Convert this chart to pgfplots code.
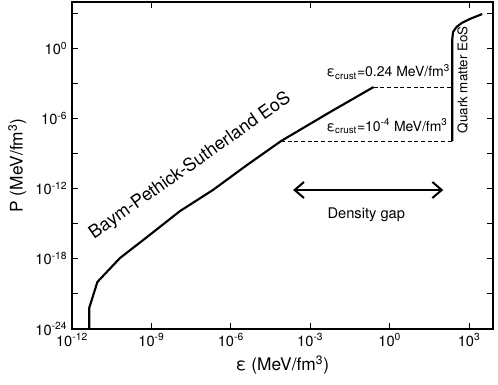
\documentclass[border=0pt]{standalone}
\usepackage{fontspec}
\setmainfont{TeX Gyre Heros}
\usepackage{pgfplots}
\pgfplotsset{compat=1.18}
\usetikzlibrary{arrows.meta}

\begin{document}
\begin{tikzpicture}
\begin{axis}[
    xmode=log, ymode=log,
    scale only axis,
    width=315.75pt, height=245.25pt,
    xmin=1e-12, xmax=7943,
    ymin=1e-24, ymax=8913,
    xtick={1e-12,1e-9,1e-6,1e-3,1,1e3},
    xticklabels={10\textsuperscript{-12},10\textsuperscript{-9},10\textsuperscript{-6},10\textsuperscript{-3},10\textsuperscript{0},10\textsuperscript{3}},
    ytick={1e-24,1e-21,1e-18,1e-15,1e-12,1e-9,1e-6,1e-3,1,1e3},
    yticklabels={10\textsuperscript{-24},,10\textsuperscript{-18},,10\textsuperscript{-12},,10\textsuperscript{-6},,10\textsuperscript{0},},
    minor xtick={}, minor ytick={},
    xtick pos=left, ytick pos=both,
    tick align=inside,
    major tick length=4.5pt,
    every tick/.style={black, line width=0.8pt},
    axis line style={line width=1.3pt},
    ticklabel style={font=\fontsize{11}{13}\selectfont},
    label style={font=\fontsize{13}{15}\selectfont},
    xlabel={ε (MeV/fm\textsuperscript{3})},
    ylabel={P (MeV/fm\textsuperscript{3})},
    clip=false,
]
\coordinate (sw) at (rel axis cs:0,0);
\coordinate (ne) at (rel axis cs:1,1);

% Baym-Pethick-Sutherland EoS
\addplot[black, line width=1.6pt] coordinates {
    (4.47e-12,1e-24) (4.47e-12,6.3e-23) (9.1e-12,1.05e-20) (6.5e-11,1.17e-18)
    (6.8e-10,7.2e-17) (1.2e-8,1.2e-14) (2.1e-7,7.6e-13) (4.1e-6,1.05e-10)
    (7.9e-5,1.17e-8) (5.6e-3,3.5e-6) (0.245,4.8e-4)
};
% quark matter EoS
\addplot[black, line width=1.6pt, line join=round] coordinates {
    (229,1.17e-8) (229,5) (245,24) (330,64) (520,141) (1060,316) (3090,832)
};
% crust cut-offs
\addplot[black, line width=0.7pt, dash pattern=on 3pt off 2pt] coordinates {(0.245,4.8e-4) (229,4.8e-4)};
\addplot[black, line width=0.7pt, dash pattern=on 3pt off 2pt] coordinates {(7.9e-5,1.17e-8) (229,1.17e-8)};
% density gap arrow
\addplot[black, line width=1.5pt, {Straight Barb[length=7pt,width=12pt]}-{Straight Barb[length=7pt,width=12pt]}]
    coordinates {(2.24e-4,7.6e-13) (105,7.6e-13)};

\node[font=\fontsize{11}{13}\selectfont] at (axis cs:0.13,5.5e-15) {Density gap};
\node[font=\fontsize{10.5}{12}\selectfont, anchor=west] at (axis cs:2.75e-3,9.3e-3) {ε\textsubscript{crust}=0.24 MeV/fm\textsuperscript{3}};
\node[font=\fontsize{10.5}{12}\selectfont, anchor=west] at (axis cs:2.75e-3,2.2e-7) {ε\textsubscript{crust}=10\textsuperscript{-4} MeV/fm\textsuperscript{3}};
\node[font=\fontsize{13.5}{16}\selectfont, rotate=35] at (axis cs:2.9e-8,8.5e-11) {Baym-Pethick-Sutherland EoS};
\node[font=\fontsize{10}{12}\selectfont, rotate=90] at (axis cs:570,2e-3) {Quark matter EoS};
\end{axis}
\begin{axis}[
    xmode=log, ymode=log,
    scale only axis,
    width=315.75pt, height=245.25pt,
    xmin=1e-12, xmax=7943,
    ymin=1e-24, ymax=8913,
    axis x line*=top, axis y line=none,
    xtick={1e-9,1e-3,1e3}, xticklabels={},
    minor xtick={},
    tick align=inside,
    major tick length=4.5pt,
    every tick/.style={black, line width=0.8pt},
    axis line style={line width=1.3pt},
]
\end{axis}
\pgfresetboundingbox
\path (sw) ++(-54pt,-42pt) rectangle ([shift={(3.75pt,1.5pt)}]ne);
\end{tikzpicture}
\end{document}
